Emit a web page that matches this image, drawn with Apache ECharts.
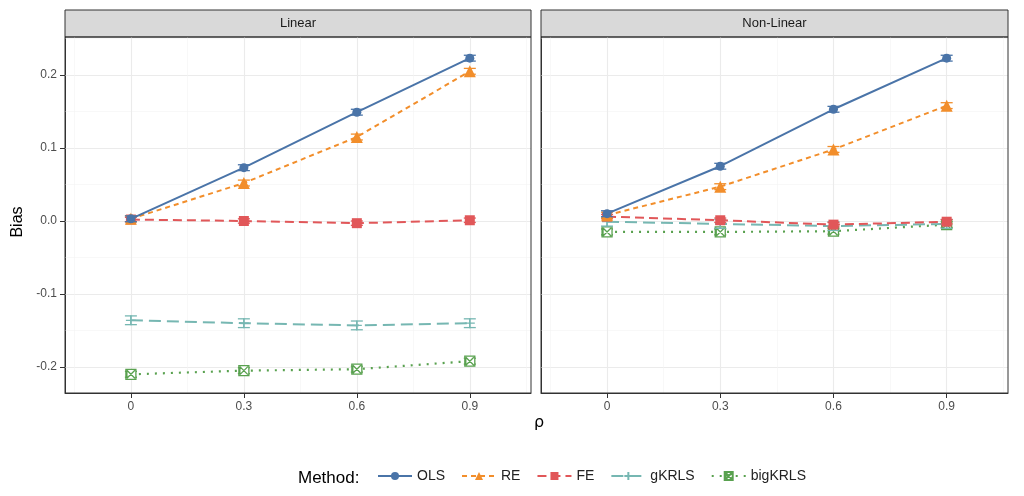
<!DOCTYPE html>
<html>
<head>
<meta charset="utf-8">
<title>Bias</title>
<style>html,body{margin:0;padding:0;background:#fff}#main{width:1024px;height:496px}</style>
</head>
<body>
<div id="main"></div>
<script src="https://cdn.jsdelivr.net/npm/echarts@6/dist/echarts.min.js"></script>
<script>
var rho = [0, 0.3, 0.6, 0.9];
var panels = ['Linear', 'Non-Linear'];
var methods = ['OLS', 'RE', 'FE', 'gKRLS', 'bigKRLS'];
var linear = {
  OLS: [0.003, 0.073, 0.149, 0.223],
  RE: [0.003, 0.052, 0.115, 0.205],
  FE: [0.002, 0.000, -0.003, 0.001],
  gKRLS: [-0.136, -0.140, -0.143, -0.140],
  bigKRLS: [-0.210, -0.205, -0.203, -0.192]
};
var nonLinear = {
  OLS: [0.010, 0.075, 0.153, 0.223],
  RE: [0.008, 0.047, 0.098, 0.158],
  FE: [0.006, 0.001, -0.005, -0.001],
  gKRLS: [-0.001, -0.004, -0.007, -0.004],
  bigKRLS: [-0.015, -0.015, -0.014, -0.005]
};
var errHalf = [0.004, 0.004, 0.003, 0.006, 0.004];
var yTicks = [-0.2, -0.1, 0, 0.1, 0.2];
var yMinor = [-0.15, -0.05, 0.05, 0.15, 0.25];
var xMinor = [-0.15, 0.15, 0.45, 0.75, 1.05];

var colors = {OLS: '#4A74A8', RE: '#F28E2B', FE: '#E15759', gKRLS: '#76B7B2', bigKRLS: '#59A14F'};
var lineTypes = {OLS: 'solid', RE: [5, 4], FE: [9, 5], gKRLS: [12, 6], bigKRLS: [2, 6]};
var symbols = {
  OLS: 'circle', RE: 'triangle', FE: 'rect',
  gKRLS: 'path://M5,0L5,10M0,5L10,5',
  bigKRLS: 'path://M0,0L10,0L10,10L0,10ZM1,1L9,9M9,1L1,9M1,9L1,1'
};

var grids = [
  {left: 65, top: 37, width: 466, height: 356, outerBoundsMode: 'none'},
  {left: 541, top: 37, width: 467, height: 356, outerBoundsMode: 'none'}
];
var xAxes = [], yAxes = [], series = [];
panels.forEach(function (p, i) {
  xAxes.push({
    type: 'value', gridIndex: i, min: -0.175, max: 1.0625,
    axisLine: {show: true, onZero: false, lineStyle: {color: '#333'}},
    axisTick: {show: true, customValues: rho, lineStyle: {color: '#333'}},
    axisLabel: {customValues: rho, color: '#4d4d4d', fontSize: 12, fontFamily: 'Liberation Sans',
      formatter: function (v) { return String(Math.round(v * 10) / 10); }},
    splitLine: {show: false}
  });
  yAxes.push({
    type: 'value', gridIndex: i, min: -0.2356, max: 0.252,
    axisLine: {show: true, onZero: false, lineStyle: {color: '#333'}},
    axisTick: {show: i === 0, customValues: yTicks, lineStyle: {color: '#333'}},
    axisLabel: {show: i === 0, customValues: yTicks, color: '#4d4d4d', fontSize: 12, fontFamily: 'Liberation Sans',
      formatter: function (v) { return v.toFixed(1); }},
    splitLine: {show: false}
  });
  var gridLines = [];
  yTicks.forEach(function (v) { gridLines.push({yAxis: v, lineStyle: {color: '#ebebeb', width: 1.1, type: 'solid'}}); });
  yMinor.forEach(function (v) { gridLines.push({yAxis: v, lineStyle: {color: '#f4f4f4', width: 0.6, type: 'solid'}}); });
  rho.forEach(function (v) { gridLines.push({xAxis: v, lineStyle: {color: '#ebebeb', width: 1.1, type: 'solid'}}); });
  xMinor.forEach(function (v) { gridLines.push({xAxis: v, lineStyle: {color: '#f4f4f4', width: 0.6, type: 'solid'}}); });
  series.push({
    type: 'line', xAxisIndex: i, yAxisIndex: i, data: [], silent: true, z: 0,
    markLine: {silent: true, symbol: 'none', label: {show: false}, animation: false, data: gridLines}
  });
  var src = i === 0 ? linear : nonLinear;
  methods.forEach(function (m, k) {
    var pts = rho.map(function (x, j) { return [x, src[m][j]]; });
    var hollow = m === 'gKRLS' || m === 'bigKRLS';
    series.push({
      name: m, type: 'line', xAxisIndex: i, yAxisIndex: i, data: pts,
      symbol: symbols[m], symbolSize: m === 'OLS' ? 9 : (m === 'RE' ? 12 : 10),
      showAllSymbol: true,
      itemStyle: hollow ? {color: '#fff', opacity: 1, borderColor: colors[m], borderWidth: 1.3} : {color: colors[m]},
      lineStyle: {color: colors[m], width: m === 'bigKRLS' ? 2.2 : 2, type: lineTypes[m]},
      z: 10 - k
    });
    series.push({
      type: 'custom', xAxisIndex: i, yAxisIndex: i, silent: true, z: 10 - k,
      data: pts.map(function (d) { return [d[0], d[1] - errHalf[k], d[1] + errHalf[k]]; }),
      renderItem: function (params, api) {
        var lo = api.coord([api.value(0), api.value(1)]);
        var hi = api.coord([api.value(0), api.value(2)]);
        var st = {stroke: colors[m], lineWidth: 1.3};
        return {type: 'group', children: [
          {type: 'line', shape: {x1: lo[0], y1: lo[1], x2: hi[0], y2: hi[1]}, style: st},
          {type: 'line', shape: {x1: lo[0] - 6, y1: lo[1], x2: lo[0] + 6, y2: lo[1]}, style: st},
          {type: 'line', shape: {x1: hi[0] - 6, y1: hi[1], x2: hi[0] + 6, y2: hi[1]}, style: st}
        ]};
      }
    });
  });
});

var chart = echarts.init(document.getElementById('main'));
chart.setOption({
  animation: false,
  grid: grids,
  xAxis: xAxes,
  yAxis: yAxes,
  series: series,
  legend: {
    data: methods,
    bottom: 8, left: 372, itemWidth: 34, itemHeight: 10, itemGap: 16,
    textStyle: {fontSize: 14, color: '#222', fontFamily: 'Liberation Sans'}
  },
  graphic: [
    {type: 'text', left: 298, bottom: 9, style: {text: 'Method:', fontSize: 17, fill: '#000', fontFamily: 'Liberation Sans'}},
    {type: 'text', left: 534, top: 415, style: {text: 'ρ', fontSize: 16, fill: '#000', fontFamily: 'DejaVu Sans'}},
    {type: 'text', x: 18, y: 222, rotation: Math.PI / 2, style: {text: 'Bias', fontSize: 16, fill: '#000', fontFamily: 'Liberation Sans', align: 'center', verticalAlign: 'middle'}},
    {type: 'rect', shape: {x: 65, y: 10, width: 466, height: 27}, style: {fill: '#d9d9d9', stroke: '#333', lineWidth: 1}},
    {type: 'rect', shape: {x: 541, y: 10, width: 467, height: 27}, style: {fill: '#d9d9d9', stroke: '#333', lineWidth: 1}},
    {type: 'text', x: 298, y: 23.5, style: {text: panels[0], fontSize: 13, fill: '#1a1a1a', fontFamily: 'Liberation Sans', align: 'center', verticalAlign: 'middle'}},
    {type: 'text', x: 774.5, y: 23.5, style: {text: panels[1], fontSize: 13, fill: '#1a1a1a', fontFamily: 'Liberation Sans', align: 'center', verticalAlign: 'middle'}},
    {type: 'rect', shape: {x: 65, y: 37, width: 466, height: 356}, style: {fill: 'none', stroke: '#333', lineWidth: 1}, z: 100},
    {type: 'rect', shape: {x: 541, y: 37, width: 467, height: 356}, style: {fill: 'none', stroke: '#333', lineWidth: 1}, z: 100}
  ]
});
</script>
</body>
</html>
